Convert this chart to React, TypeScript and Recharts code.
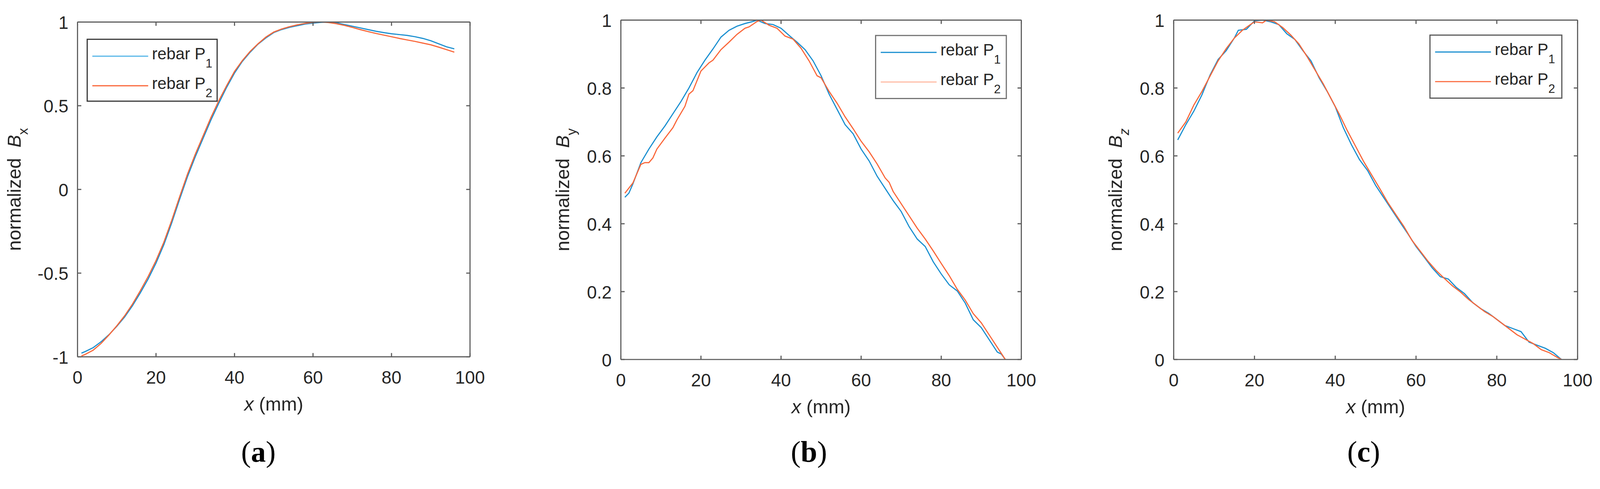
import React from "react";
import { LineChart, Line, XAxis, YAxis } from "recharts";

// ---------- data ----------
const X_TICKS = [0, 20, 40, 60, 80, 100];
const A_Y_TICKS = [-1, -0.5, 0, 0.5, 1];
const BC_Y_TICKS = [0, 0.2, 0.4, 0.6, 0.8, 1];
const SERIES_NAMES = ["rebar P", "rebar P"];
const SERIES_SUBS = ["1", "2"];
const PANEL_LETTERS = ["a", "b", "c"];
const Y_LABEL_SUBS = ["x", "y", "z"];

// panel (a): normalized Bx
const aX = [1, 2, 4, 6, 8, 10, 12, 14, 16, 18, 20, 22, 24, 26, 28, 30, 32, 34, 36, 38, 40, 42, 44, 46, 48, 50, 52, 54, 56, 58, 60, 62, 64, 66, 68, 70, 72, 74, 76, 78, 80, 82, 84, 86, 88, 90, 92, 94, 96];
const aP1 = [-0.978, -0.968, -0.945, -0.91, -0.868, -0.818, -0.762, -0.695, -0.618, -0.535, -0.44, -0.33, -0.2, -0.06, 0.075, 0.195, 0.305, 0.415, 0.515, 0.61, 0.695, 0.765, 0.82, 0.868, 0.905, 0.937, 0.955, 0.968, 0.978, 0.988, 0.993, 0.998, 1.0, 0.995, 0.985, 0.975, 0.965, 0.955, 0.945, 0.937, 0.93, 0.925, 0.92, 0.912, 0.902, 0.888, 0.87, 0.852, 0.84];
const aP2 = [-0.995, -0.985, -0.96, -0.92, -0.87, -0.815, -0.755, -0.685, -0.605, -0.52, -0.425, -0.315, -0.185, -0.045, 0.09, 0.21, 0.32, 0.43, 0.53, 0.62, 0.705, 0.77, 0.825, 0.87, 0.91, 0.94, 0.958, 0.972, 0.983, 0.992, 0.998, 1.0, 0.997, 0.99, 0.98, 0.968, 0.955, 0.943, 0.932, 0.922, 0.912, 0.902, 0.893, 0.884, 0.874, 0.864, 0.85, 0.835, 0.82];

// panel (b): normalized By
const bP1X = [1, 2, 3, 5, 7, 9, 11, 13, 15, 17, 19, 21, 23, 25, 27, 29, 31, 33, 34, 36, 38, 40, 42, 44, 46, 48, 50, 52, 54, 56, 58, 60, 62, 64, 66, 68, 70, 72, 74, 76, 78, 80, 82, 84, 86, 88, 90, 92, 94, 95, 96];
const bP1 = [0.478, 0.49, 0.517, 0.58, 0.62, 0.656, 0.688, 0.724, 0.76, 0.8, 0.845, 0.882, 0.915, 0.95, 0.97, 0.982, 0.99, 0.996, 1.0, 0.99, 0.987, 0.976, 0.955, 0.935, 0.913, 0.88, 0.836, 0.782, 0.737, 0.692, 0.665, 0.62, 0.585, 0.54, 0.504, 0.468, 0.436, 0.391, 0.355, 0.333, 0.288, 0.252, 0.22, 0.202, 0.166, 0.117, 0.094, 0.058, 0.022, 0.016, 0];
const bP2X = [1, 3, 5, 6, 7, 8, 9, 11, 13, 14, 16, 17, 18, 20, 22, 23, 25, 27, 29, 31, 32, 34, 35, 37, 39, 41, 43, 45, 47, 49, 50, 52, 54, 56, 58, 60, 62, 64, 66, 67, 68, 70, 72, 74, 76, 78, 80, 82, 84, 86, 88, 90, 92, 94, 96];
const bP2 = [0.49, 0.52, 0.575, 0.58, 0.58, 0.594, 0.62, 0.652, 0.683, 0.706, 0.746, 0.782, 0.792, 0.85, 0.874, 0.882, 0.913, 0.935, 0.958, 0.976, 0.98, 0.996, 1.0, 0.985, 0.976, 0.953, 0.944, 0.917, 0.88, 0.836, 0.83, 0.79, 0.755, 0.715, 0.68, 0.643, 0.612, 0.576, 0.535, 0.522, 0.495, 0.459, 0.423, 0.387, 0.355, 0.32, 0.283, 0.247, 0.207, 0.175, 0.135, 0.108, 0.072, 0.036, 0];

// panel (c): normalized Bz
const cP1X = [1, 3, 5, 7, 9, 11, 13, 15, 16, 18, 20, 22, 24, 26, 28, 30, 32, 34, 36, 38, 40, 42, 44, 46, 48, 50, 52, 54, 56, 58, 60, 62, 64, 66, 68, 70, 72, 74, 76, 78, 80, 82, 84, 86, 88, 90, 92, 94, 96];
const cP1 = [0.647, 0.692, 0.732, 0.78, 0.838, 0.884, 0.91, 0.947, 0.97, 0.973, 0.998, 1.0, 0.995, 0.987, 0.96, 0.943, 0.91, 0.88, 0.83, 0.79, 0.745, 0.683, 0.633, 0.589, 0.557, 0.513, 0.477, 0.441, 0.405, 0.37, 0.333, 0.302, 0.27, 0.244, 0.237, 0.212, 0.194, 0.168, 0.15, 0.136, 0.118, 0.1, 0.091, 0.082, 0.051, 0.042, 0.033, 0.02, 0];
const cP2X = [1, 3, 5, 7, 9, 11, 13, 15, 17, 19, 20, 22, 23, 25, 27, 29, 31, 33, 35, 37, 39, 41, 43, 45, 47, 49, 51, 53, 55, 57, 59, 61, 63, 65, 67, 69, 71, 73, 75, 77, 79, 81, 83, 85, 87, 89, 91, 93, 95, 96];
const cP2 = [0.667, 0.7, 0.75, 0.79, 0.835, 0.88, 0.916, 0.947, 0.97, 0.987, 0.995, 0.992, 1.0, 0.995, 0.978, 0.956, 0.93, 0.893, 0.853, 0.813, 0.768, 0.723, 0.674, 0.629, 0.584, 0.544, 0.504, 0.463, 0.427, 0.392, 0.351, 0.32, 0.289, 0.262, 0.239, 0.217, 0.199, 0.177, 0.159, 0.141, 0.127, 0.109, 0.091, 0.073, 0.06, 0.047, 0.029, 0.02, 0.006, 0];

// ---------- styles ----------
const W_TOTAL = 4211;
const H = 1253;
const FONT = "'Liberation Sans', Arial, Helvetica, sans-serif";
const SERIF = "'Liberation Serif', 'Times New Roman', serif";
const TXT = "#262626";
const AX = "#5e5e5e";
const BLUE = "#1A8FD0";
const ORANGE = "#FA673A";
const TICK_FS = 47;
const LABEL_FS = 50;
const LEG_FS = 43;
const TL = 10;

const zip = (xs: number[], ys: number[]) => xs.map((x, i) => ({ x, y: ys[i] }));

const PANELS = [
  {
    x0: 0, w: 1400, plot: { l: 204, r: 1237, t: 58, b: 940 },
    yDomain: [-1, 1], yTicks: A_Y_TICKS,
    series: [zip(aX, aP1), zip(aX, aP2)],
    legend: { x: 228, y: 102, w: 345, h: 166, border: "#333333", colors: ["#58B6E8", ORANGE] },
    yLabelOff: -149, caption: 680,
  },
  {
    x0: 1400, w: 1400, plot: { l: 1634, r: 2688, t: 53, b: 947 },
    yDomain: [0, 1], yTicks: BC_Y_TICKS,
    series: [zip(bP1X, bP1), zip(bP2X, bP2)],
    legend: { x: 2303, y: 92, w: 347, h: 169, border: "#707070", colors: [BLUE, "#FFB79E"] },
    yLabelOff: -136, caption: 2129,
  },
  {
    x0: 2800, w: 1411, plot: { l: 3089, r: 4152, t: 53, b: 947 },
    yDomain: [0, 1], yTicks: BC_Y_TICKS,
    series: [zip(cP1X, cP1), zip(cP2X, cP2)],
    legend: { x: 3762, y: 91, w: 350, h: 169, border: "#555555", colors: [BLUE, ORANGE] },
    yLabelOff: -136, caption: 3589,
  },
];

const fmt = (v: number) => String(v);

const BottomTick = (p: any) => (
  <g>
    <line x1={p.x} y1={p.y} x2={p.x} y2={p.y - TL} stroke={AX} strokeWidth={3} />
    <text x={p.x} y={p.y + 71} textAnchor="middle" fontSize={TICK_FS} fontFamily={FONT} fill={TXT}>
      {fmt(p.payload.value)}
    </text>
  </g>
);
const TopTick = (p: any) => (
  <line x1={p.x} y1={p.y} x2={p.x} y2={p.y + TL} stroke={AX} strokeWidth={3} />
);
const LeftTick = (p: any) => (
  <g>
    <line x1={p.x} y1={p.y} x2={p.x + TL} y2={p.y} stroke={AX} strokeWidth={3} />
    <text x={p.x - 24} y={p.y + 18} textAnchor="end" fontSize={TICK_FS} fontFamily={FONT} fill={TXT}>
      {fmt(p.payload.value)}
    </text>
  </g>
);
const RightTick = (p: any) => (
  <line x1={p.x} y1={p.y} x2={p.x - TL} y2={p.y} stroke={AX} strokeWidth={3} />
);

const XLabel = ({ lx, ly }: any) => (
  <text x={lx} y={ly} textAnchor="middle" fontSize={LABEL_FS} fontFamily={FONT} fill={TXT} style={{ whiteSpace: "pre" }}>
    <tspan fontStyle="italic">x</tspan> (mm)
  </text>
);
const YLabel = ({ bx, cy, sub }: any) => (
  <text x={bx} y={cy} transform={`rotate(-90 ${bx} ${cy})`} textAnchor="middle" fontSize={LABEL_FS} fontFamily={FONT} fill={TXT} style={{ whiteSpace: "pre" }}>
    {"normalized  "}
    <tspan fontStyle="italic">B</tspan>
    <tspan dy={18} fontSize={36} fontStyle={sub === "z" ? "italic" : "normal"}>{sub}</tspan>
  </text>
);

function Panel({ cfg, idx }: any) {
  const LW = 100, RW = 10, XH = 50, TH = 10;
  const { x0, w, plot } = cfg;
  const margin = {
    left: plot.l - x0 - LW,
    right: x0 + w - plot.r - RW,
    top: plot.t - TH,
    bottom: H - plot.b - XH,
  };
  const cx = (plot.l + plot.r) / 2 - x0;
  const cy = (plot.t + plot.b) / 2;
  const lg = cfg.legend;
  const colors = [BLUE, ORANGE];
  return (
    <div style={{ position: "absolute", left: x0, top: 0, width: w, height: H }}>
      <LineChart width={w} height={H} margin={margin}>
        <XAxis
          xAxisId="b" type="number" dataKey="x" domain={[0, 100]} ticks={X_TICKS} interval={0}
          orientation="bottom" height={XH} tickSize={0} tickMargin={0} tickLine={false}
          axisLine={{ stroke: AX, strokeWidth: 3 }} tick={(p: any) => <BottomTick {...p} />}
          allowDataOverflow
          label={<XLabel lx={cx} ly={plot.b + 142} />}
        />
        <XAxis
          xAxisId="t" type="number" dataKey="x" domain={[0, 100]} ticks={X_TICKS} interval={0}
          orientation="top" height={TH} tickSize={0} tickMargin={0} tickLine={false}
          axisLine={{ stroke: AX, strokeWidth: 3 }} tick={(p: any) => <TopTick {...p} />}
          allowDataOverflow
        />
        <YAxis
          yAxisId="l" type="number" domain={cfg.yDomain} ticks={cfg.yTicks} interval={0}
          orientation="left" width={LW} tickSize={0} tickMargin={0} tickLine={false}
          axisLine={{ stroke: AX, strokeWidth: 3 }} tick={(p: any) => <LeftTick {...p} />}
          allowDataOverflow
          label={<YLabel bx={plot.l - x0 + cfg.yLabelOff} cy={cy} sub={Y_LABEL_SUBS[idx]} />}
        />
        <YAxis
          yAxisId="r" type="number" domain={cfg.yDomain} ticks={cfg.yTicks} interval={0}
          orientation="right" width={RW} tickSize={0} tickMargin={0} tickLine={false}
          axisLine={{ stroke: AX, strokeWidth: 3 }} tick={(p: any) => <RightTick {...p} />}
          allowDataOverflow
        />
        {cfg.series.map((d: any, i: number) => (
          <Line
            key={i} xAxisId="b" yAxisId="l" data={d} dataKey="y" name={SERIES_NAMES[i] + SERIES_SUBS[i]}
            type="linear" stroke={colors[i]} strokeWidth={3} dot={false} activeDot={false}
            isAnimationActive={false}
          />
        ))}
      </LineChart>
      <svg width={w} height={H} style={{ position: "absolute", left: 0, top: 0, pointerEvents: "none" }}>
        <g transform={`translate(${lg.x - x0} ${lg.y})`}>
          <rect x={1.5} y={1.5} width={lg.w - 3} height={lg.h - 3} fill="#ffffff" stroke={lg.border} strokeWidth={3} />
          {SERIES_NAMES.map((name, i) => {
            const ry = 46 + i * 78;
            return (
              <g key={i}>
                <line x1={15} x2={162} y1={ry} y2={ry} stroke={lg.colors[i]} strokeWidth={3} />
                <text x={172} y={ry + 8} fontSize={LEG_FS} fontFamily={FONT} fill={TXT}>
                  {name}
                  <tspan dy={22} fontSize={32}>{SERIES_SUBS[i]}</tspan>
                </text>
              </g>
            );
          })}
        </g>
        <text x={cfg.caption - x0} y={1216} textAnchor="middle" fontSize={78} fontFamily={SERIF} fill="#000">
          (<tspan fontWeight="bold">{PANEL_LETTERS[idx]}</tspan>)
        </text>
      </svg>
    </div>
  );
}

export default function App() {
  let s = 1;
  if (typeof window !== "undefined" && window.innerWidth > 0) {
    s = Math.min(1.5, Math.max(0.5, window.innerWidth / W_TOTAL));
  }
  return (
    <div
      style={{
        position: "absolute", left: 0, top: 0, width: W_TOTAL, height: H, background: "#ffffff",
        overflow: "hidden", transform: `scale(${s})`, transformOrigin: "0 0",
      }}
    >
      {PANELS.map((cfg, i) => (
        <Panel key={i} cfg={cfg} idx={i} />
      ))}
    </div>
  );
}
